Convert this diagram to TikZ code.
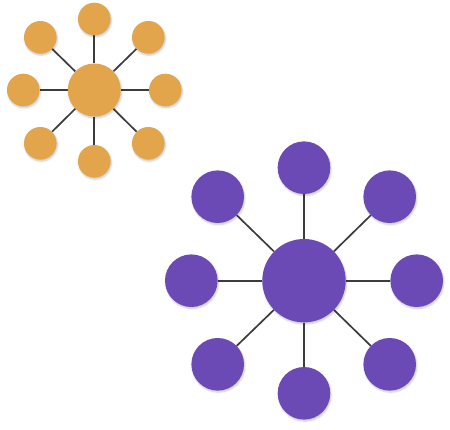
\documentclass[tikz,border=0pt]{standalone}
\usepackage{tikz}
\usetikzlibrary{shadows.blur,backgrounds}
\definecolor{hubgold}{RGB}{227,165,75}
\definecolor{hubviolet}{RGB}{107,74,182}
\definecolor{spokegrey}{RGB}{60,60,60}

\begin{document}
\begin{tikzpicture}[x=1pt, y=-1pt,
    dot/.style={circle, draw=none, inner sep=0pt,
                blur shadow={shadow xshift=0.8pt, shadow yshift=-1.6pt,
                             shadow blur steps=6, shadow opacity=22}},
    spoke/.style={draw=spokegrey, line width=1.7pt}]
\useasboundingbox (0,0) rectangle (450,430);
% small gold star
\node[dot, fill=hubgold, minimum size=53pt] (g) at (94.3,90) {};
\foreach \n/\dx/\dy in {1/0/-71, 2/54/-52.7, 3/71/0, 4/54/53.3,
                        5/0/71.3, 6/-54/53.3, 7/-71/0, 8/-54/-52.7} {
    \node[dot, fill=hubgold, minimum size=32.6pt] (g\n) at (94.3+\dx,90+\dy) {};
}
% large violet star
\node[dot, fill=hubviolet, minimum size=83.4pt] (v) at (304,280.7) {};
\foreach \n/\dx/\dy in {1/0/-113, 2/85.7/-84, 3/112.7/0, 4/85.7/83.6,
                        5/0/112.6, 6/-86.3/83.6, 7/-112.7/0, 8/-86.3/-84} {
    \node[dot, fill=hubviolet, minimum size=52.6pt] (v\n) at (304+\dx,280.7+\dy) {};
}
\begin{scope}[on background layer]
\foreach \n in {1,...,8} {
    \draw[spoke] (g) -- (g\n);
    \draw[spoke] (v) -- (v\n);
}
\end{scope}
\end{tikzpicture}
\end{document}
